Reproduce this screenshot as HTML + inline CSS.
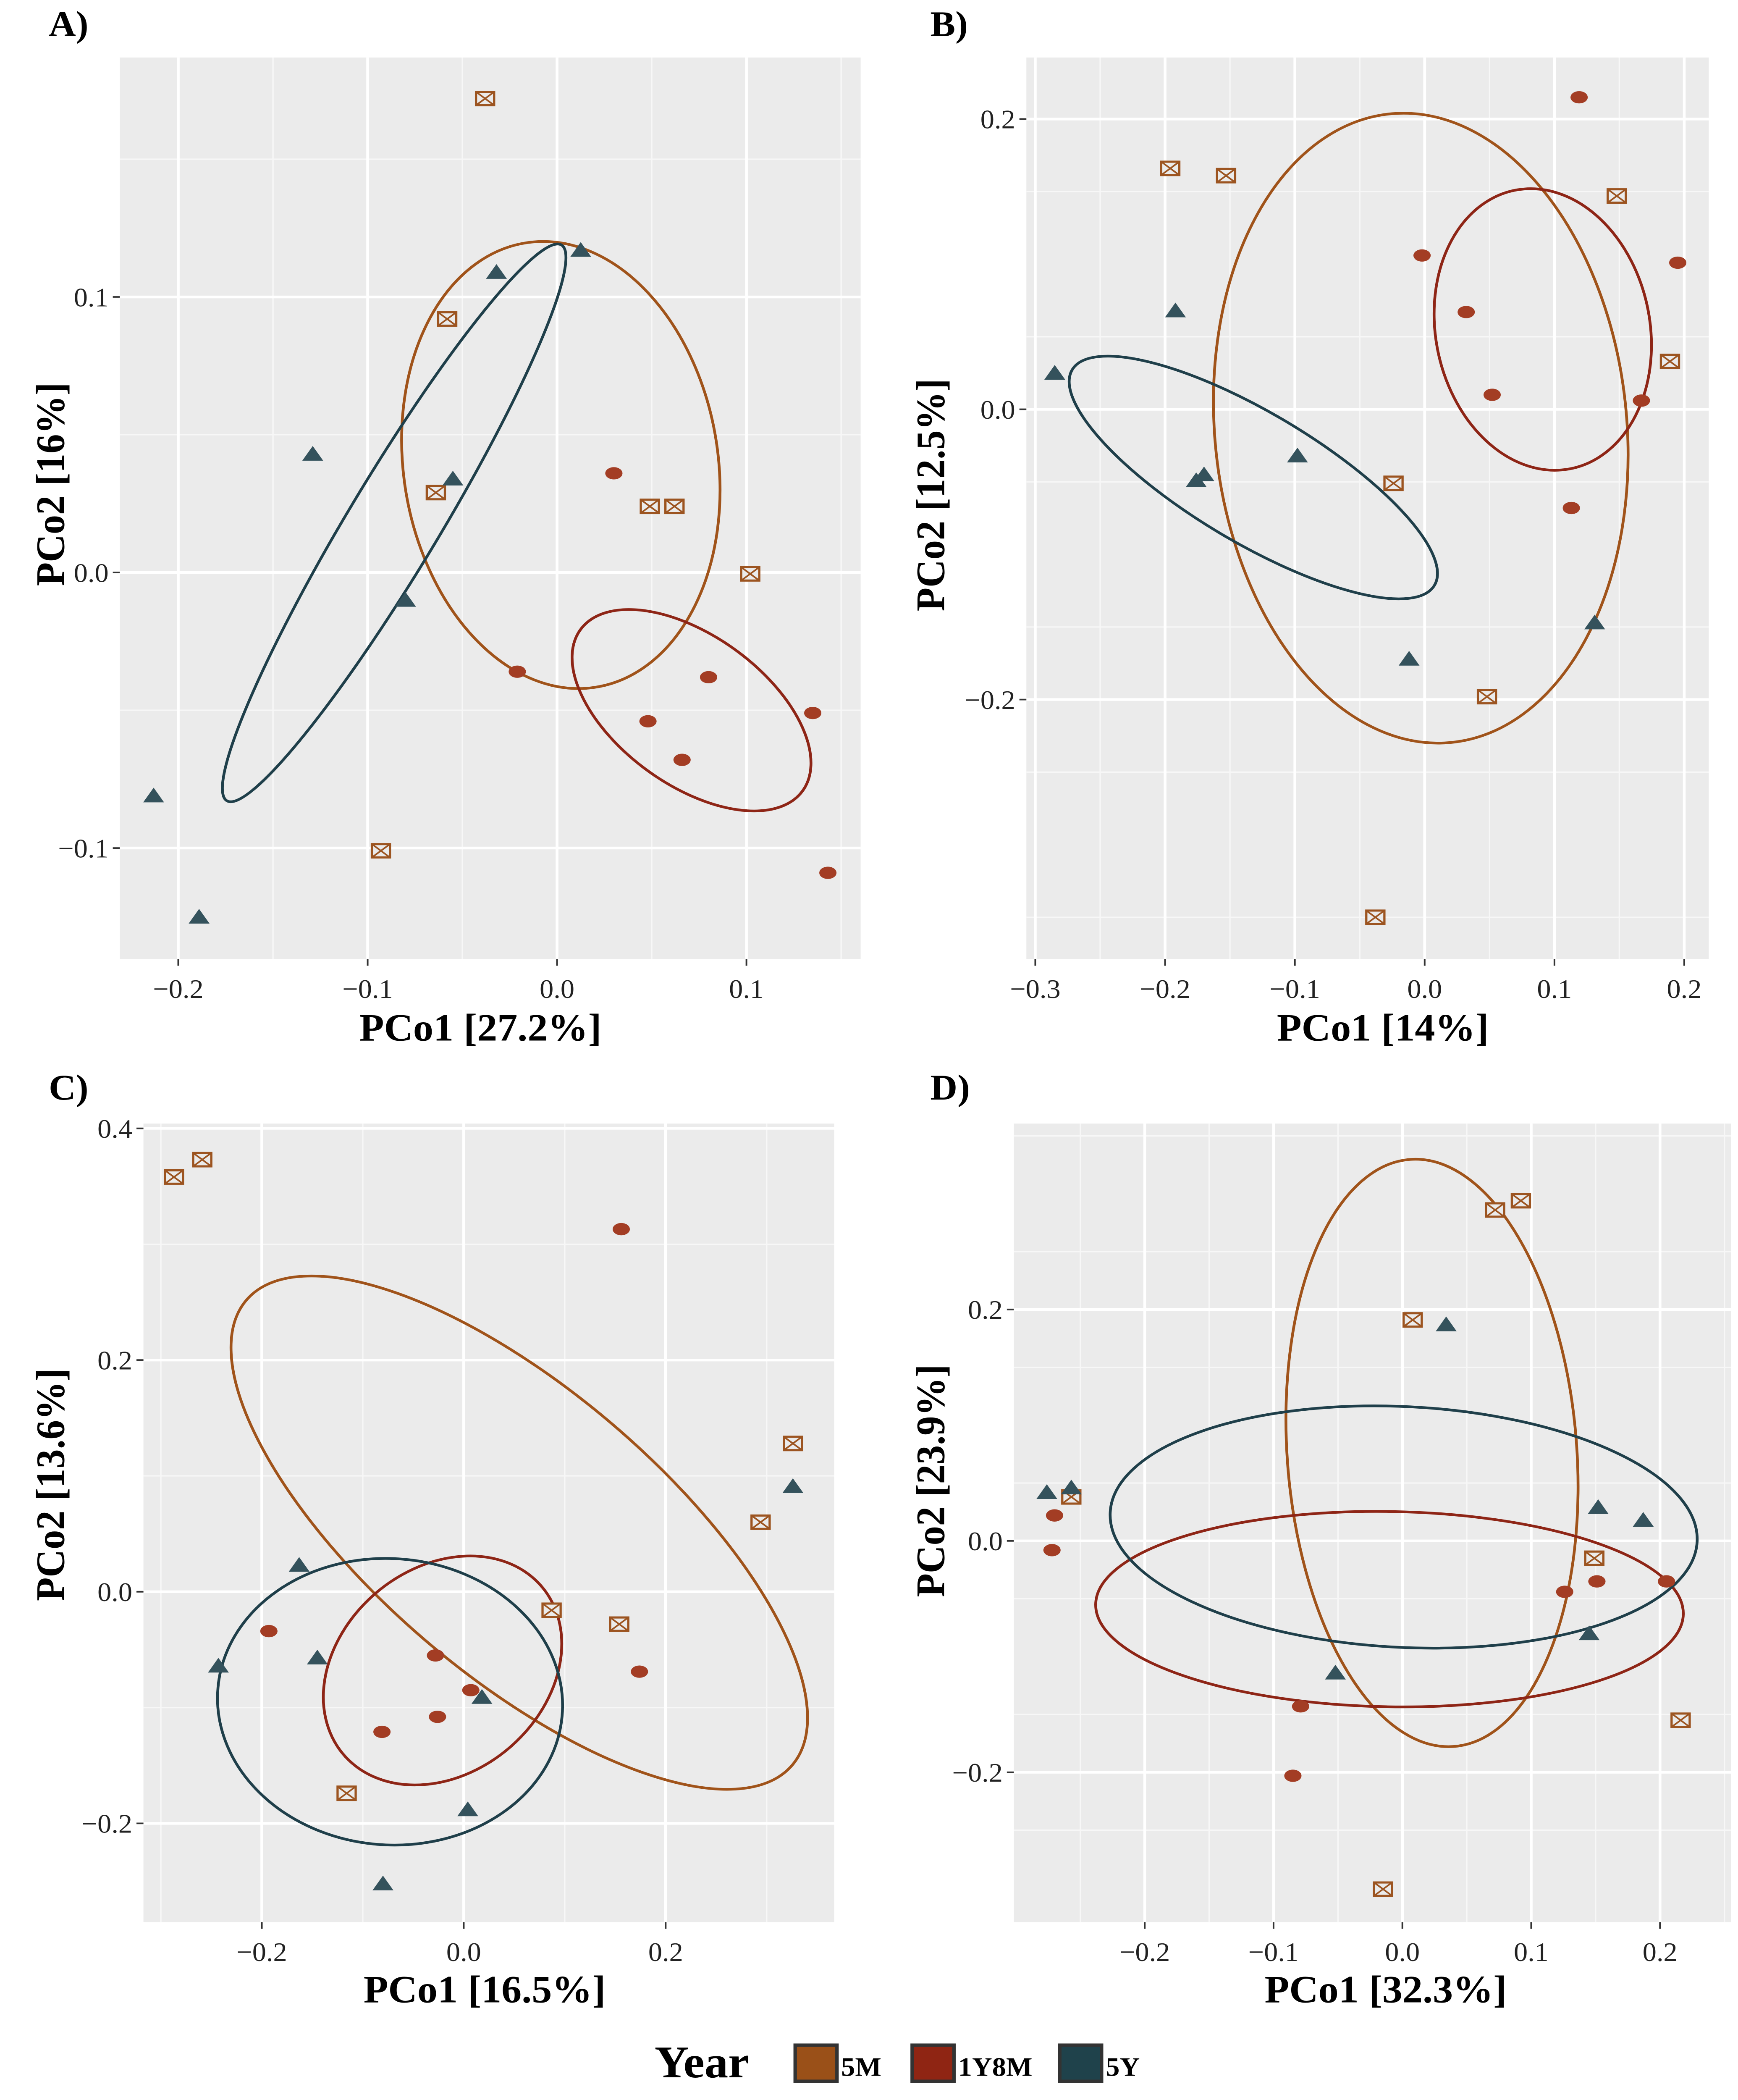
<!DOCTYPE html>
<html><head><meta charset="utf-8"><style>
html,body{margin:0;padding:0;background:#fff;overflow:hidden;width:100%;height:100%}
svg{display:block;position:absolute;left:0;top:0;width:100vw;height:100vh}
text{font-family:"Liberation Serif",serif}
</style></head><body>
<svg id="fig" viewBox="0 0 1248 1570" preserveAspectRatio="none" xmlns="http://www.w3.org/2000/svg">
<g id="layer"></g>
<g>
<text x="470" y="1553" font-size="34" font-weight="bold">Year</text>
<rect x="571" y="1529" width="30" height="27" fill="#9a5018" stroke="#333" stroke-width="2.5"/>
<text x="604" y="1552" font-size="20" font-weight="bold">5M</text>
<rect x="655" y="1529" width="30" height="27" fill="#8f2513" stroke="#333" stroke-width="2.5"/>
<text x="688" y="1552" font-size="20" font-weight="bold">1Y8M</text>
<rect x="761" y="1529" width="30" height="27" fill="#1f424b" stroke="#333" stroke-width="2.5"/>
<text x="794" y="1552" font-size="20" font-weight="bold">5Y</text>
</g>
</svg>
<script>
// ---- Panel A data ----
const aSqX=[-0.038,-0.058,-0.064,0.049,0.062,0.102,-0.093];
const aSqY=[0.172,0.092,0.029,0.024,0.024,-0.0005,-0.101];
const aCiX=[0.030,-0.021,0.080,0.048,0.066,0.135,0.143];
const aCiY=[0.036,-0.036,-0.038,-0.054,-0.068,-0.051,-0.109];
const aTrX=[0.0125,-0.032,-0.129,-0.055,-0.080,-0.213,-0.189];
const aTrY=[0.117,0.109,0.043,0.034,-0.010,-0.081,-0.125];
const aXTicks=[-0.2,-0.1,0.0,0.1];
const aYTicks=[-0.1,0.0,0.1];
const aEllCx=[0.002,0.071,-0.086];
const aEllCy=[0.039,-0.050,0.018];
// ---- Panel B data ----
const bSqX=[-0.196,-0.153,0.148,0.189,-0.024,0.048,-0.038];
const bSqY=[0.166,0.161,0.147,0.033,-0.051,-0.198,-0.350];
const bCiX=[0.119,-0.002,0.032,0.052,0.195,0.167,0.113];
const bCiY=[0.215,0.106,0.067,0.010,0.101,0.006,-0.068];
const bTrX=[-0.285,-0.192,-0.176,-0.170,-0.098,-0.012,0.131];
const bTrY=[0.025,0.068,-0.049,-0.045,-0.032,-0.172,-0.147];
const bXTicks=[-0.3,-0.2,-0.1,0.0,0.1,0.2];
const bYTicks=[-0.2,0.0,0.2];
const bEllCx=[-0.003,0.091,-0.132];
const bEllCy=[-0.013,0.055,-0.047];
// ---- Panel C data ----
const cSqX=[-0.287,-0.259,0.326,0.294,0.087,0.154,-0.116];
const cSqY=[0.358,0.373,0.128,0.060,-0.016,-0.028,-0.174];
const cCiX=[0.156,-0.193,-0.028,0.007,0.174,-0.081,-0.026];
const cCiY=[0.313,-0.034,-0.055,-0.085,-0.069,-0.121,-0.108];
const cTrX=[0.326,-0.163,-0.145,-0.243,0.018,0.004,-0.080];
const cTrY=[0.091,0.023,-0.057,-0.064,-0.091,-0.188,-0.252];
const cXTicks=[-0.2,0.0,0.2];
const cYTicks=[-0.2,0.0,0.2,0.4];
const cEllCx=[0.055,-0.021,-0.073];
const cEllCy=[0.051,-0.068,-0.095];
// ---- Panel D data ----
const dSqX=[0.072,0.092,0.008,-0.257,0.149,0.216,-0.015];
const dSqY=[0.286,0.294,0.191,0.038,-0.015,-0.155,-0.301];
const dCiX=[-0.270,-0.272,0.126,0.151,0.205,-0.079,-0.085];
const dCiY=[0.022,-0.008,-0.044,-0.035,-0.035,-0.143,-0.203];
const dTrX=[-0.276,-0.257,0.034,0.152,0.187,0.145,-0.052];
const dTrY=[0.042,0.046,0.187,0.029,0.018,-0.080,-0.114];
const dXTicks=[-0.2,-0.1,0.0,0.1,0.2];
const dYTicks=[-0.2,0.0,0.2];
const dEllCx=[0.023,-0.010,0.001];
const dEllCy=[0.076,-0.059,0.012];

const NS="http://www.w3.org/2000/svg";
const layer=document.getElementById('layer');
function mk(tag,attrs,parent){const e=document.createElementNS(NS,tag);for(const k in attrs)e.setAttribute(k,attrs[k]);(parent||layer).appendChild(e);return e;}
const C5M="#9c5420",C1Y="#a33d24",C5Y="#34525c";
const E5M="#a0531a",E1Y="#8e2516",E5Y="#1f3f4a";
function fmt(v){const s=Math.abs(v).toFixed(1);return (v<-1e-9?'\u2212':'')+s;}

const panels=[
 {id:'a',letter:'A)',lx:35,ly:27,x0:86,x1:618,y0:43,y1:717,ox:400,sx:1360,oy:428,sy:2060,
  xt:aXTicks,yt:aYTicks,step:0.1,sq:[aSqX,aSqY],ci:[aCiX,aCiY],tr:[aTrX,aTrY],ecx:aEllCx,ecy:aEllCy,
  ell:[[113,168,-8],[100,55,38],[240,33,-60]],xl:'PCo1 [27.2%]',yl:'PCo2 [16%]',xlx:345,xly:778,ylx:36,yly:362},
 {id:'b',letter:'B)',lx:668,ly:27,x0:737,x1:1227,y0:43,y1:717,ox:1023,sx:932,oy:306,sy:1085,
  xt:bXTicks,yt:bYTicks,step:0.1,sq:[bSqX,bSqY],ci:[bCiX,bCiY],tr:[bTrX,bTrY],ecx:bEllCx,ecy:bEllCy,
  ell:[[148,236,-5],[77,106,-10],[153,48,32]],xl:'PCo1 [14%]',yl:'PCo2 [12.5%]',xlx:993,xly:778,ylx:668,yly:370},
 {id:'c',letter:'C)',lx:35,ly:822,x0:103,x1:599,y0:840,y1:1437,ox:333,sx:725,oy:1190,sy:866,
  xt:cXTicks,yt:cYTicks,step:0.2,sq:[cSqX,cSqY],ci:[cCiX,cCiY],tr:[cTrX,cTrY],ecx:cEllCx,ecy:cEllCy,
  ell:[[262,105,42],[95,75,-45],[124,107,5]],xl:'PCo1 [16.5%]',yl:'PCo2 [13.6%]',xlx:348,xly:1497,ylx:36,yly:1110},
 {id:'d',letter:'D)',lx:668,ly:822,x0:728,x1:1243,y0:840,y1:1437,ox:1007,sx:925,oy:1152,sy:865,
  xt:dXTicks,yt:dYTicks,step:0.1,sq:[dSqX,dSqY],ci:[dCiX,dCiY],tr:[dTrX,dTrY],ecx:dEllCx,ecy:dEllCy,
  ell:[[104,220,-4],[211,73,1],[211,90,3]],xl:'PCo1 [32.3%]',yl:'PCo2 [23.9%]',xlx:995,xly:1497,ylx:668,yly:1107}
];

panels.forEach(p=>{
 const X=v=>p.ox+p.sx*v, Y=v=>p.oy-p.sy*v;
 const g=mk('g',{});
 
 
 const bg=mk('rect',{x:p.x0,y:p.y0,width:p.x1-p.x0,height:p.y1-p.y0,fill:'#ebebeb'},g);
 
 
 const grid=mk('g',{},g);
 
 
 for(let k=-10;k<=10;k++){
  const vx=(k+0.5)*p.step, px=X(vx);
  if(px>p.x0&&px<p.x1) mk('line',{x1:px,x2:px,y1:p.y0,y2:p.y1,stroke:'#f7f7f7','stroke-width':1},grid);
  const py=Y(vx);
  if(py>p.y0&&py<p.y1) mk('line',{x1:p.x0,x2:p.x1,y1:py,y2:py,stroke:'#f7f7f7','stroke-width':1},grid);
 }
 p.xt.forEach(t=>{const px=X(t);
  mk('line',{x1:px,x2:px,y1:p.y0,y2:p.y1,stroke:'#fff','stroke-width':2},grid);
  mk('line',{x1:px,x2:px,y1:p.y1,y2:p.y1+5,stroke:'#333','stroke-width':1.2},g);
  const tl=mk('text',{x:px,y:p.y1+29,'font-size':20,'text-anchor':'middle',fill:'#222'},g);
  
  
  tl.textContent=fmt(t);});
 p.yt.forEach(t=>{const py=Y(t);
  mk('line',{x1:p.x0,x2:p.x1,y1:py,y2:py,stroke:'#fff','stroke-width':2},grid);
  mk('line',{x1:p.x0-5,x2:p.x0,y1:py,y2:py,stroke:'#333','stroke-width':1.2},g);
  const tl=mk('text',{x:p.x0-8,y:py+7,'font-size':20,'text-anchor':'end',fill:'#222'},g);
  
  
  tl.textContent=fmt(t);});
 const ecol=[E5M,E1Y,E5Y], enames=['ellipse-5m','ellipse-1y8m','ellipse-5y'];
 for(let i=0;i<3;i++){
  const cx=X(p.ecx[i]), cy=Y(p.ecy[i]);
  const e=mk('ellipse',{cx:cx,cy:cy,rx:p.ell[i][0],ry:p.ell[i][1],transform:`rotate(${p.ell[i][2]} ${cx} ${cy})`,fill:'none',stroke:ecol[i],'stroke-width':2},g);
  
  
 }
 p.sq[0].forEach((vx,i)=>{const cx=X(vx),cy=Y(p.sq[1][i]);
  const s=mk('g',{},g);
  
  
  mk('rect',{x:cx-6.5,y:cy-5,width:13,height:10,fill:'#ebebeb',stroke:C5M,'stroke-width':1.6},s);
  mk('path',{d:`M${cx-6.5} ${cy-5}L${cx+6.5} ${cy+5}M${cx+6.5} ${cy-5}L${cx-6.5} ${cy+5}`,stroke:C5M,'stroke-width':1.2},s);});
 p.ci[0].forEach((vx,i)=>{
  const c=mk('ellipse',{cx:X(vx),cy:Y(p.ci[1][i]),rx:6.2,ry:4.6,fill:C1Y},g);
  
  });
 p.tr[0].forEach((vx,i)=>{const cx=X(vx),cy=Y(p.tr[1][i]);
  const t=mk('path',{d:`M${cx} ${cy-6}L${cx+7.5} ${cy+5}L${cx-7.5} ${cy+5}Z`,fill:C5Y},g);
  
  });
 const lt=mk('text',{x:p.lx,y:p.ly,'font-size':27,'font-weight':'bold'},g);
 
 
 lt.textContent=p.letter;
 const xl=mk('text',{x:p.xlx,y:p.xly,'font-size':29,'font-weight':'bold','text-anchor':'middle'},g);
 
 
 xl.textContent=p.xl;
 const yl=mk('text',{x:p.ylx,y:p.yly,'font-size':29,'font-weight':'bold','text-anchor':'middle',transform:`rotate(-90 ${p.ylx} ${p.yly})`},g);
 
 
 yl.setAttribute('dy','10');
 yl.textContent=p.yl;
});
</script>
</body></html>
